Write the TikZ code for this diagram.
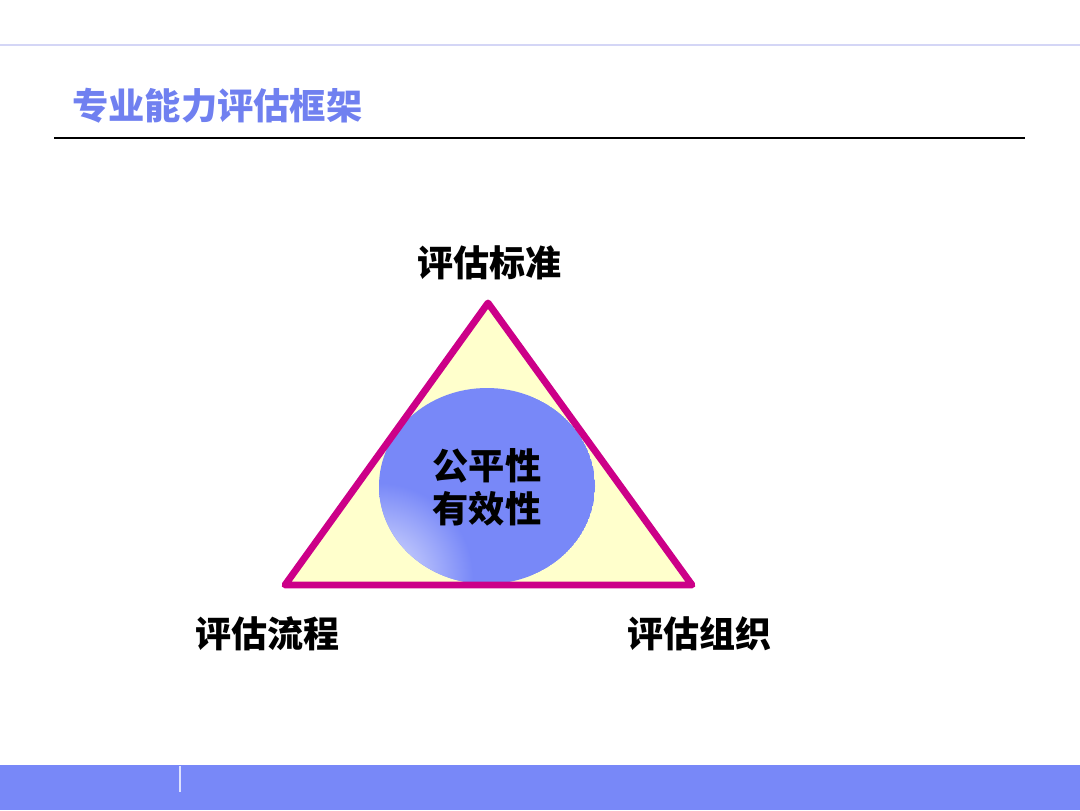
\documentclass[tikz,border=0pt]{standalone}
\usepackage{fontspec}
\newfontfamily\cjk{Noto Sans CJK SC}
\definecolor{barblue}{HTML}{7888F8}
\definecolor{titleblue}{HTML}{7080F0}
\definecolor{topline}{HTML}{D4D6F6}
\definecolor{magline}{HTML}{CC0088}
\definecolor{triyellow}{HTML}{FFFFCC}
\tikzset{
  lbl/.style={font=\cjk\bfseries\fontsize{27}{30}\selectfont, text=black, inner sep=0pt},
  ctr/.style={font=\cjk\bfseries\fontsize{27.2}{32.5}\selectfont, text=black, align=center, inner sep=0pt},
  ttl/.style={font=\cjk\bfseries\fontsize{27.2}{30}\selectfont, text=titleblue, anchor=west, inner sep=0pt},
}
\begin{document}
\begin{tikzpicture}[x=0.75pt,y=-0.75pt]
\useasboundingbox (0,0) rectangle (1080,810);
% top line
\draw[topline, line width=1.5pt] (0,45) -- (1080,45);
% title
\node[ttl] (title) at (72,106) {专业能力评估框架};
\draw[black, line width=0.8pt] (54,138) -- (1025,138);
% bottom bar
\fill[barblue] (0,765) rectangle (1080,810);
\draw[white!75!barblue, line width=1pt] (180,766) -- (180,792);
% triangle
\coordinate (A) at (488,303);
\coordinate (B) at (285,585);
\coordinate (C) at (692,585);
\fill[triyellow] (A) -- (B) -- (C) -- cycle;
% ellipse
\begin{scope}
\clip (487,486) ellipse [x radius=108, y radius=98];
\fill[barblue] (487,486) ellipse [x radius=108, y radius=98];
\shade[inner color=white!80!barblue, outer color=barblue] (378,578) circle [radius=95];
\end{scope}
\draw[magline, line width=5.2pt, line join=round] (A) -- (B) -- (C) -- cycle;
% texts
\node[ctr] (center) at (487,487) {公平性\\有效性};
\node[lbl] (std) at (489,263) {评估标准};
\node[lbl] (proc) at (267,634) {评估流程};
\node[lbl] (org) at (699,634) {评估组织};
\end{tikzpicture}
\end{document}
